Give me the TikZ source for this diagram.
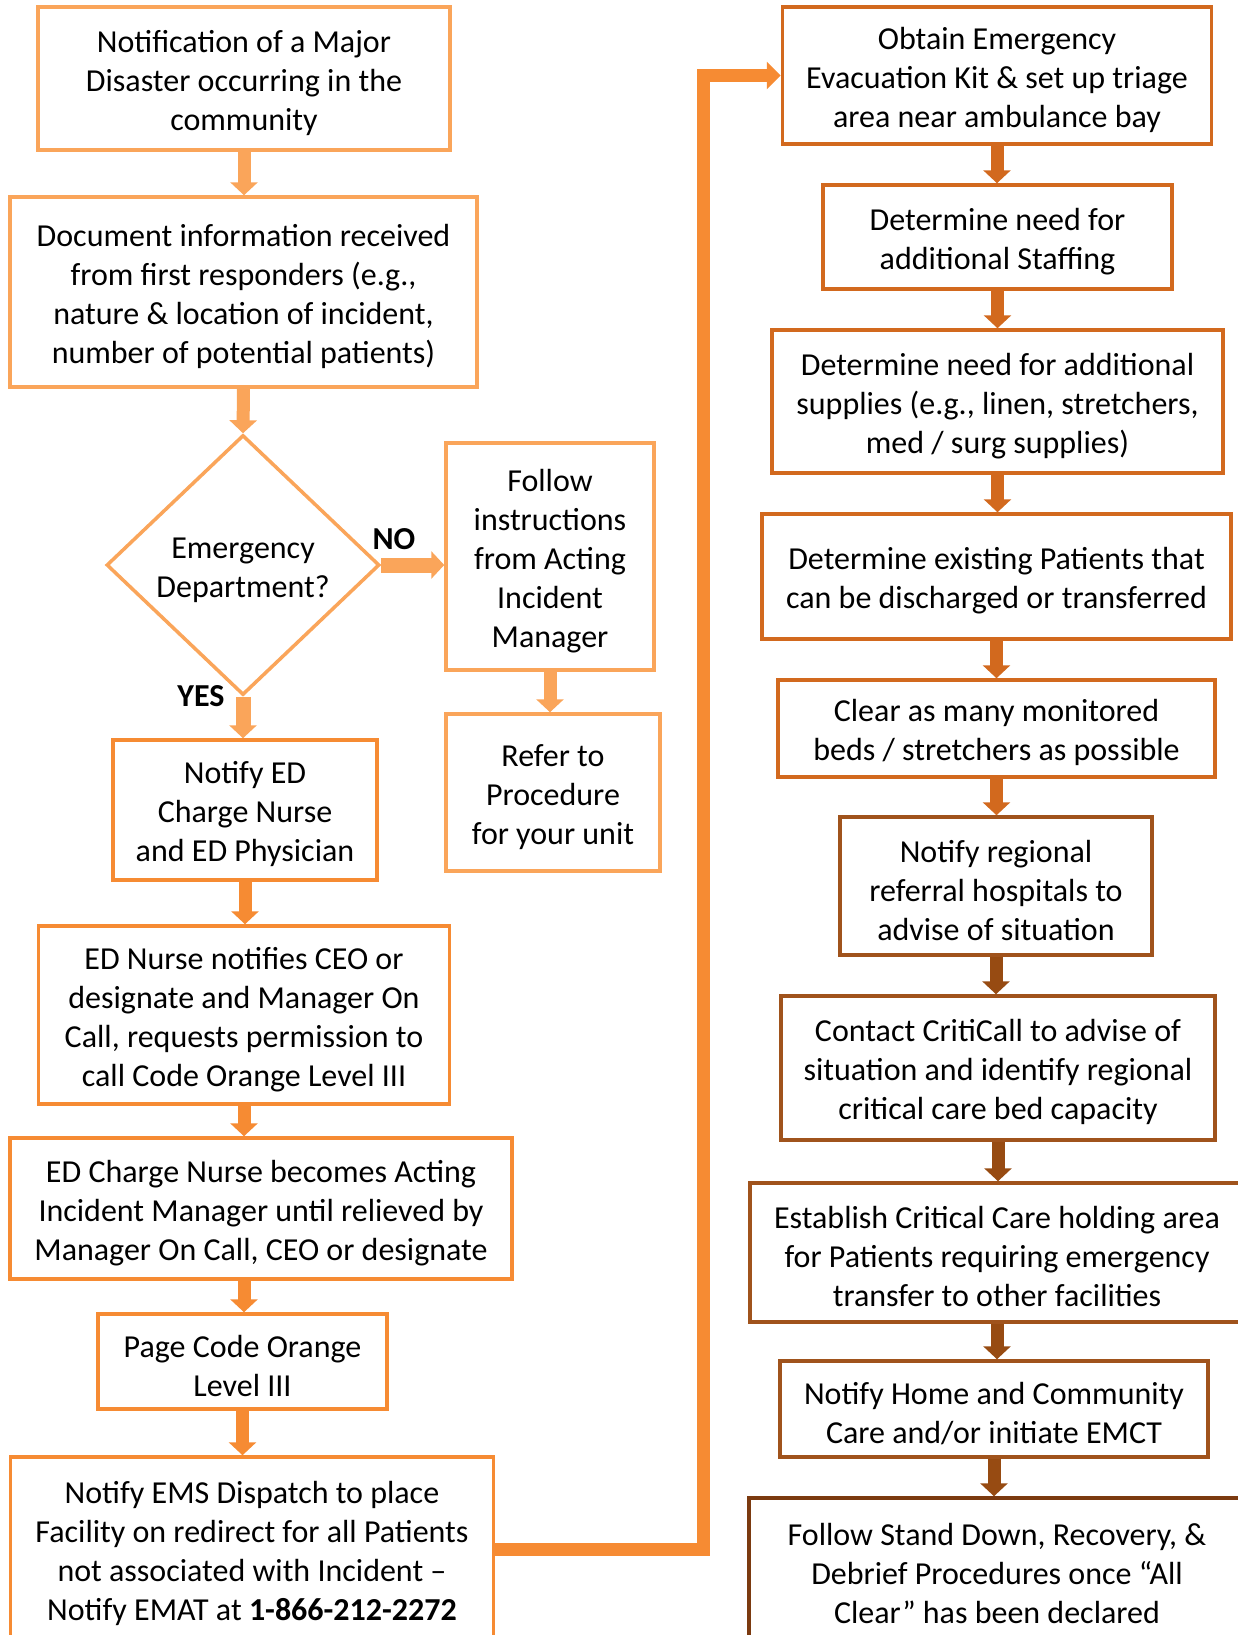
\documentclass[tikz,border=0pt]{standalone}
\usepackage{fontspec}
\setmainfont{Carlito}
\usetikzlibrary{shapes.geometric,arrows.meta}
\definecolor{lightor}{HTML}{FAA55A}
\definecolor{midor}{HTML}{F68B33}
\definecolor{darkor}{HTML}{D2691E}
\definecolor{rust}{HTML}{A0531C}
\definecolor{arrbrown}{HTML}{974B12}
\definecolor{brownor}{HTML}{7B3A10}
\newcommand{\tstrut}{\rule{0pt}{15.5pt}}

\begin{document}
\begin{tikzpicture}[x=0.5pt, y=-0.5pt,
  every node/.style={font=\fontsize{16}{19.5}\selectfont, align=center, inner sep=2pt},
  box/.style={draw=#1, line width=1.75pt, fill=white},
  arr/.style={draw=#1, line width=6.5pt, -{Triangle[width=13.5pt,length=6.5pt]}}]
  \useasboundingbox (0,0) rectangle (1238,1635);

  \node[box=lightor, minimum width=206pt, minimum height=71.5pt] (notify) at (244,78.5) {\tstrut Notification of a Major\\Disaster occurring in the\\community};
  \node[box=lightor, minimum width=233.5pt, minimum height=95pt] (doc) at (243.5,292) {\tstrut Document information received\\from first responders (e.g.,\\nature \& location of incident,\\number of potential patients)};
  \node[box=lightor, diamond, minimum width=136.5pt, minimum height=130pt, inner sep=0pt] (ed) at (243,565) {\tstrut Emergency\\Department?};
  \node[box=lightor, minimum width=104pt, minimum height=113.5pt] (follow) at (550,556.5) {\tstrut Follow\\instructions\\from Acting\\Incident\\Manager};
  \node[box=lightor, minimum width=107pt, minimum height=78.5pt] (refer) at (553,792.5) {\tstrut Refer to\\Procedure\\for your unit};
  \node[box=midor, minimum width=132pt, minimum height=70pt] (notifyed) at (245,810) {\tstrut Notify ED\\Charge Nurse\\and ED Physician};
  \node[box=midor, minimum width=205.5pt, minimum height=89pt] (ednurse) at (244,1015) {\tstrut ED Nurse notifies CEO or\\designate and Manager On\\Call, requests permission to\\call Code Orange Level III};
  \node[box=midor, minimum width=251pt, minimum height=70.5pt] (edcharge) at (261,1208.5) {\tstrut ED Charge Nurse becomes Acting\\Incident Manager until relieved by\\Manager On Call, CEO or designate};
  \node[box=midor, minimum width=144.5pt, minimum height=47.5pt] (page) at (242.5,1361.5) {\tstrut Page Code Orange\\Level III};
  \node[box=midor, minimum width=241.5pt, minimum height=92pt] (ems) at (252,1549) {\tstrut Notify EMS Dispatch to place\\Facility on redirect for all Patients\\not associated with Incident –\\Notify EMAT at \textbf{1-866-212-2272}};

  \node[font=\bfseries\fontsize{16}{19.5}\selectfont] (lno) at (394,539) {NO};
  \node[font=\bfseries\fontsize{16}{19.5}\selectfont] (lyes) at (201,696) {YES};

  \node[box=darkor, minimum width=214.5pt, minimum height=68.5pt] (obtain) at (997,75.5) {\tstrut Obtain Emergency\\Evacuation Kit \& set up triage\\area near ambulance bay};
  \node[box=darkor, minimum width=174.5pt, minimum height=52pt] (staffing) at (997.5,237) {\tstrut Determine need for\\additional Staffing};
  \node[box=darkor, minimum width=225.5pt, minimum height=71.5pt] (supplies) at (997.5,401.5) {\tstrut Determine need for additional\\supplies (e.g., linen, stretchers,\\med / surg supplies)};
  \node[box=darkor, minimum width=234.5pt, minimum height=62.5pt] (existing) at (996.5,576.5) {\tstrut Determine existing Patients that\\can be discharged or transferred};
  \node[box=darkor, minimum width=218.5pt, minimum height=48.5pt] (clear) at (996.5,728.5) {\tstrut Clear as many monitored\\beds / stretchers as possible};
  \node[box=rust, minimum width=156pt, minimum height=69pt] (regional) at (996,886) {\tstrut Notify regional\\referral hospitals to\\advise of situation};
  \node[box=rust, minimum width=217pt, minimum height=72pt] (criticall) at (998,1068) {\tstrut Contact CritiCall to advise of\\situation and identify regional\\critical care bed capacity};
  \node[box=rust, minimum width=247pt, minimum height=69.5pt] (holding) at (997,1252.5) {\tstrut Establish Critical Care holding area\\for Patients requiring emergency\\transfer to other facilities};
  \node[box=rust, minimum width=214pt, minimum height=48pt] (home) at (994,1409) {\tstrut Notify Home and Community\\Care and/or initiate EMCT};
  \node[box=brownor, minimum width=248pt, minimum height=71pt] (standdown) at (997,1569) {\tstrut Follow Stand Down, Recovery, \&\\Debrief Procedures once “All\\Clear” has been declared};

  \draw[arr=lightor] (notify.south) -- (notify.south |- doc.north);
  \draw[arr=lightor] (doc.south) -- (ed.north);
  \draw[arr=lightor, line width=7.5pt] (ed.east) -- (ed.east -| follow.west);
  \draw[arr=lightor, line width=7.5pt] (ed.south) -- (ed.south |- notifyed.north);
  \draw[arr=lightor] (follow.south) -- (follow.south |- refer.north);
  \draw[arr=midor] (notifyed.south) -- (notifyed.south |- ednurse.north);
  \draw[arr=midor] (ednurse.south) -- (ednurse.south |- edcharge.north);
  \draw[arr=midor] (edcharge.south -| ednurse.south) -- (ednurse.south |- page.north);
  \draw[arr=midor] (page.south) -- (page.south |- ems.north);

  \draw[draw=midor, line width=6.5pt, -{Triangle[width=13.5pt,length=7pt]}] (ems.east) -- ++(208,0) |- (obtain.west);

  \draw[arr=darkor] (obtain.south) -- (obtain.south |- staffing.north);
  \draw[arr=darkor] (staffing.south) -- (staffing.south |- supplies.north);
  \draw[arr=darkor] (supplies.south) -- (supplies.south |- existing.north);
  \draw[arr=darkor] (existing.south) -- (existing.south |- clear.north);
  \draw[arr=darkor] (clear.south) -- (clear.south |- regional.north);
  \draw[arr=arrbrown] (regional.south) -- (regional.south |- criticall.north);
  \draw[arr=arrbrown] (criticall.south) -- (criticall.south |- holding.north);
  \draw[arr=arrbrown] (holding.south) -- (holding.south |- home.north);
  \draw[arr=arrbrown] (home.south) -- (home.south |- standdown.north);
\end{tikzpicture}
\end{document}
